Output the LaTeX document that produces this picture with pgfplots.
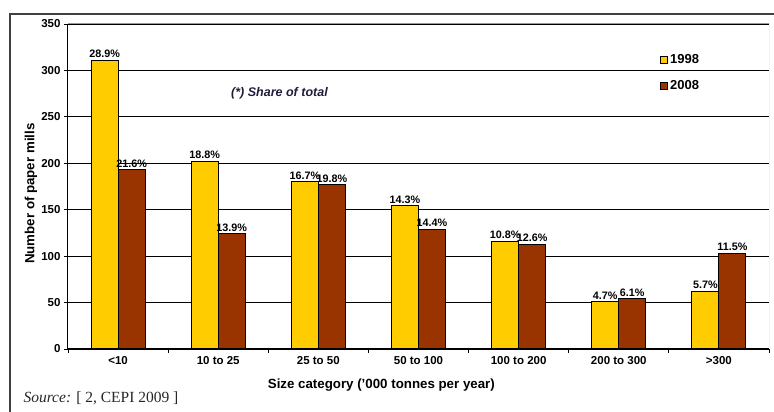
\documentclass[border=0pt]{standalone}
\usepackage{pgfplots}
\pgfplotsset{compat=1.18}
\usepackage{pgfplotstable}
\usepackage{fontspec}
\setmainfont{Liberation Sans}
\newfontfamily\sourcefont{Liberation Serif}

\definecolor{bar98}{HTML}{FFCC00}
\definecolor{bar08}{HTML}{993300}
\definecolor{notecol}{HTML}{1E1E3C}

% Paper mills by size category; share of total in the label columns
\pgfplotstableread{
x  y98  l98   y08  l08
0  311  28.9  193  21.6
1  202  18.8  124  13.9
2  180  16.7  177  19.8
3  154  14.3  129  14.4
4  116  10.8  113  12.6
5   51   4.7   54   6.1
6   62   5.7  103  11.5
}\mills

\begin{document}
\begin{tikzpicture}[x=1pt,y=1pt]
\useasboundingbox (0,0) rectangle (774,412);
% outer frame
\draw[line width=1.5pt, black!75] (10,-2) -- (10,398) -- (776,398);
\begin{axis}[
  at={(68pt,63pt)}, anchor=south west,
  scale only axis, width=701pt, height=325pt,
  ybar=0pt, bar width=27pt,
  xmin=-0.5, xmax=6.5, ymin=0, ymax=350,
  axis x line*=bottom, axis y line*=left,
  axis line style={-, black, line width=1pt},
  xtick={0,...,6},
  xticklabels={<10, 10 to 25, 25 to 50, 50 to 100, 100 to 200, 200 to 300, >300},
  minor xtick={-0.5,0.5,...,6.5},
  major x tick style={draw=none},
  minor x tick style={black, line width=0.8pt},
  minor tick length=4pt,
  ytick={0,50,...,350},
  major y tick style={black, line width=0.8pt},
  major tick length=4pt,
  tick align=outside,
  ymajorgrids,
  major grid style={black, line width=0.9pt},
  tick label style={font=\fontsize{11.5}{13}\selectfont\bfseries},
  /pgf/number format/assume math mode=true,
  xlabel={Size category ('000 tonnes per year)},
  ylabel={Number of paper mills},
  label style={font=\fontsize{13.3}{15}\selectfont\bfseries},
  xlabel style={at={(axis description cs:0.447,0)}, anchor=center, yshift=-36pt},
  ylabel style={at={(axis description cs:-0.0528,0.478)}, anchor=center},
  nodes near coords={\pgfplotspointmeta\%},
  point meta=explicit symbolic,
  nodes near coords style={font=\fontsize{10.8}{12}\selectfont\bfseries, anchor=south, inner sep=2pt},
  legend style={draw=none, fill=none, at={(axis description cs:0.8445,0.912)},
    anchor=north west, inner sep=0pt, row sep=11pt,
    font=\fontsize{13}{15}\selectfont\bfseries,
    /tikz/every even column/.append style={column sep=7pt}},
  legend cell align=left,
]
\addplot[fill=bar98, draw=black, line width=1pt,
  legend image code/.code={\draw[fill=bar98, draw=black, line width=0.9pt] (0pt,-3.5pt) rectangle (7pt,3.5pt);}]
  table[x=x, y=y98, meta=l98] {\mills};
\addplot[fill=bar08, draw=black, line width=1pt,
  legend image code/.code={\draw[fill=bar08, draw=black, line width=0.9pt] (0pt,-3.5pt) rectangle (7pt,3.5pt);}]
  table[x=x, y=y08, meta=l08] {\mills};
\legend{1998, 2008}
% plot-area border on top and right
\draw[black!40, line width=1pt] (rel axis cs:0,1) -- (rel axis cs:1,1) -- (rel axis cs:1,0);
\node[font=\fontsize{12.5}{14}\selectfont\bfseries\itshape, text=notecol]
  at (rel axis cs:0.3017,0.788) {(*) Share of total};
\end{axis}
\node[anchor=base west, font=\sourcefont\fontsize{15.5}{17}\selectfont, text=black!85]
  at (20,9) {\textit{Source:} [ 2, CEPI 2009 ]};
\end{tikzpicture}
\end{document}
